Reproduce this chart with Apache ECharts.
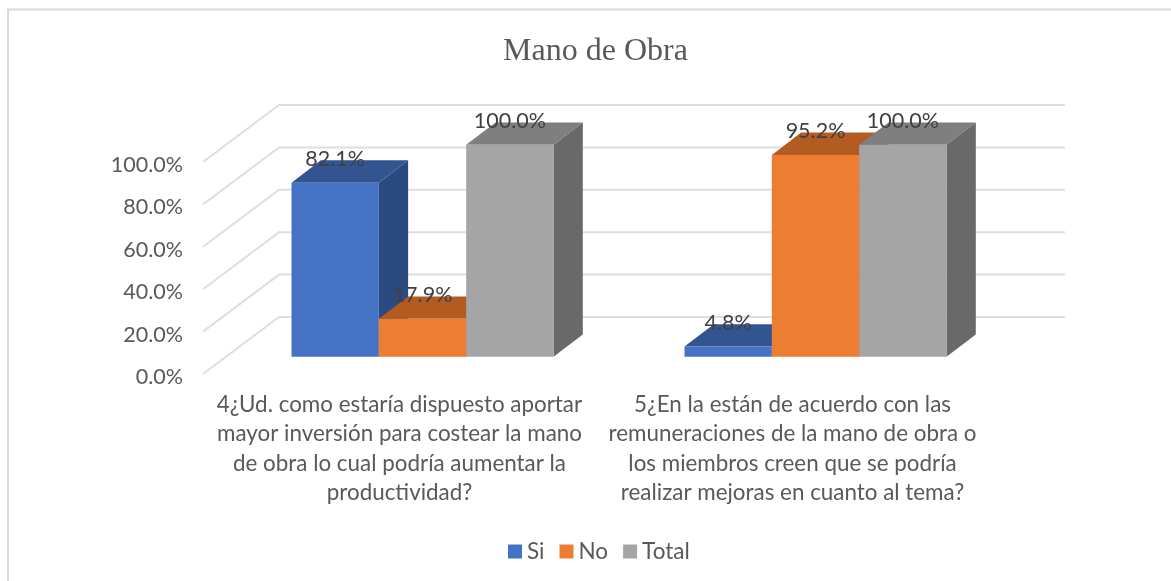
<!DOCTYPE html>
<html>
<head>
<meta charset="utf-8">
<style>html,body{margin:0;padding:0;background:#fff}#c{width:1171px;height:581px}</style>
<script src="https://cdn.jsdelivr.net/npm/echarts@6/dist/echarts.min.js"></script>
</head>
<body>
<div id="c"></div>
<script>
const chartTitle = 'Mano de Obra';
const categories = [
  '4¿Ud. como estaría dispuesto aportar\nmayor inversión para costear la mano\nde obra lo cual podría aumentar la\nproductividad?',
  '5¿En la están de acuerdo con las\nremuneraciones de la mano de obra o\nlos miembros creen que se podría\nrealizar mejoras en cuanto al tema?'
];
const seriesNames = ['Si', 'No', 'Total'];
const siValues = [82.1, 4.8];
const noValues = [17.9, 95.2];
const totalValues = [100.0, 100.0];
const yTicks = [0, 20, 40, 60, 80, 100];

const FONT = 'Lato';
const TEXT = '#595959';
const LABEL = '#404040';
const GRID_DEPTH = [76, 57];   // front plane -> back wall
const BAR_INSET = [23, 17.3];  // front plane -> bar front
const BAR_DEPTH = [29.3, 22.3];
const palettes = [
  {front:'#4472C4', top:'#325592', side:'#2A4A80'},
  {front:'#ED7D31', top:'#B25C22', side:'#A9551D'},
  {front:'#A5A5A5', top:'#7F7F7F', side:'#696969'}
];

function wallItem(params, api) {
  const cs = params.coordSys;
  const y = api.coord([0, api.value(0)])[1];
  const x0 = cs.x, x1 = cs.x + cs.width;
  const stroke = {stroke:'#DEDEDE', lineWidth:2, fill:null};
  return {type:'polyline', silent:true, shape:{points:[
    [x0, y], [x0 + GRID_DEPTH[0], y - GRID_DEPTH[1]], [x1 + GRID_DEPTH[0], y - GRID_DEPTH[1]]
  ]}, style:stroke};
}

function barRenderer(seriesIdx) {
  return function (params, api) {
    const c = palettes[seriesIdx];
    const cat = api.value(0), val = api.value(1);
    const band = api.size([1, 0])[0];
    const w = band / 4.5;
    const center = api.coord([cat, 0])[0];
    const xL = center - 1.5 * w + seriesIdx * w + BAR_INSET[0];
    const xR = xL + w;
    const yB = api.coord([cat, 0])[1] - BAR_INSET[1];
    const yT = api.coord([cat, val])[1] - BAR_INSET[1];
    const dx = BAR_DEPTH[0], dy = BAR_DEPTH[1];
    return {type:'group', children:[
      {type:'polygon', shape:{points:[[xR,yT],[xR+dx,yT-dy],[xR+dx,yB-dy],[xR,yB]]}, style:{fill:c.side}},
      {type:'polygon', shape:{points:[[xL,yT],[xL+dx,yT-dy],[xR+dx,yT-dy],[xR,yT]]}, style:{fill:c.top}},
      {type:'rect', shape:{x:xL, y:yT, width:w, height:yB-yT}, style:{fill:c.front}},
      {type:'text', z2:50, style:{
        x:(xL+xR)/2, y:yT-23.5, text:val.toFixed(1)+'%', fill:LABEL,
        font:'21.5px '+FONT, textAlign:'center', textVerticalAlign:'middle'
      }}
    ]};
  };
}

const valueLists = [siValues, noValues, totalValues];
const option = {
  animation:false,
  backgroundColor:'#fff',
  title:{text:chartTitle, left:590.5, top:31, textAlign:'center',
    textStyle:{fontFamily:'Liberation Serif', fontSize:32, fontWeight:'normal', color:'#595959'}},
  legend:{
    data:seriesNames, left:503, top:535, itemWidth:14, itemHeight:14, itemGap:15, icon:'rect',
    textStyle:{fontFamily:FONT, fontSize:22.5, color:TEXT}
  },
  grid:{left:203, top:162, width:786, height:212},
  xAxis:{type:'category', data:categories, axisLine:{show:false}, axisTick:{show:false},
    axisLabel:{interval:0, margin:16, fontFamily:FONT, fontSize:22.4, lineHeight:29.5, color:TEXT, align:'center'}},
  yAxis:{type:'value', min:0, max:100, interval:20, axisLine:{show:false}, axisTick:{show:false}, splitLine:{show:false},
    axisLabel:{margin:20, fontFamily:FONT, fontSize:21.5, color:TEXT, verticalAlign:'top', lineHeight:6, formatter:v => v.toFixed(1)+'%'}},
  series:[
    {type:'custom', name:'wall', silent:true, z:1, coordinateSystem:'cartesian2d',
      renderItem:wallItem, data:yTicks.map(v => [v]), encode:{y:0}, clip:false},
    ...seriesNames.map((n, i) => ({
      type:'custom', name:n, z:2+i, coordinateSystem:'cartesian2d',
      itemStyle:{color:palettes[i].front}, renderItem:barRenderer(i),
      data:valueLists[i].map((v, k) => [k, v]), encode:{x:0, y:1}, clip:false
    }))
  ],
  graphic:[{type:'polyline', silent:true, z:-1, shape:{points:[[8,581],[8,9.5],[1171,9.5]]},
    style:{stroke:'#D9D9D9', lineWidth:2, fill:null}}]
};
const chart = echarts.init(document.getElementById('c'), null, {renderer:'canvas'});
chart.setOption(option);
</script>
</body>
</html>
